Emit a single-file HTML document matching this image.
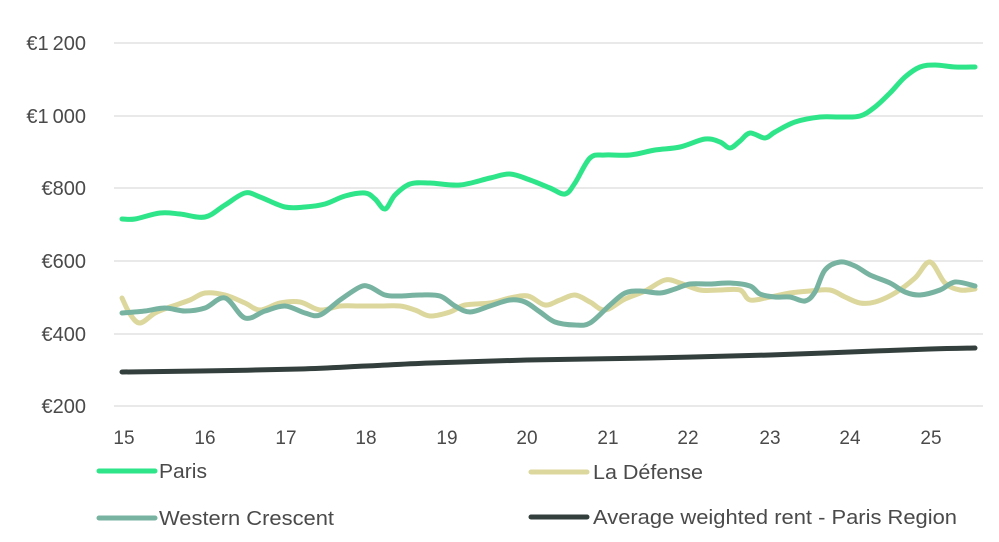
<!DOCTYPE html>
<html><head><meta charset="utf-8"><style>
html,body{margin:0;padding:0;background:#fff;}
svg{display:block;}
text{font-family:"Liberation Sans",sans-serif;fill:#4a4a4a;}
</style></head><body>
<svg id="c" width="999" height="542" viewBox="0 0 999 542" xmlns="http://www.w3.org/2000/svg">
<g stroke="#e2e2e2" stroke-width="1.5">
<line x1="114" y1="43" x2="983" y2="43"/>
<line x1="114" y1="116" x2="983" y2="116"/>
<line x1="114" y1="188" x2="983" y2="188"/>
<line x1="114" y1="261" x2="983" y2="261"/>
<line x1="114" y1="334" x2="983" y2="334"/>
<line x1="114" y1="406" x2="983" y2="406"/>
</g>
<g font-size="20" text-anchor="end">
<text x="86" y="50">€1&#8201;200</text>
<text x="86" y="123">€1&#8201;000</text>
<text x="86" y="195">€800</text>
<text x="86" y="268">€600</text>
<text x="86" y="341">€400</text>
<text x="86" y="413">€200</text>
</g>
<g font-size="19" text-anchor="middle">
<text x="124" y="444">15</text><text x="205" y="444">16</text><text x="286" y="444">17</text>
<text x="366" y="444">18</text><text x="447" y="444">19</text><text x="527" y="444">20</text>
<text x="608" y="444">21</text><text x="688" y="444">22</text><text x="770" y="444">23</text>
<text x="850" y="444">24</text><text x="931" y="444">25</text>
</g>
<g fill="none" stroke-width="5" stroke-linejoin="round" stroke-linecap="round">
<polyline stroke="#333f3c" points="122,372 200,371 300,369 366,366 430,363 527,360 650,358 770,355 850,352 930,349 975,348"/>
<polyline stroke="#dcd79c" points="122,298 130,314 140,323 155,313 170,307 190,300 205,293 225,295 245,303 260,310 280,303 300,302 320,310 340,306 360,306 380,306 400,306 415,310 430,316 450,312 465,305 490,303 510,298 528,296 545,305 560,300 575,295 590,302 605,310 625,299 645,291 665,280 680,283 700,290 720,290 740,290 750,300 770,297 790,293 810,291 830,290 845,297 860,303 875,302 895,293 915,278 930,262 945,283 960,290 975,289"/>
<polyline stroke="#77b3a0" points="122,313 145,311 165,308 185,311 205,308 225,298 245,318 265,311 285,306 305,313 320,315 340,300 360,287 370,287 385,295 400,296 420,295 440,296 455,306 470,312 490,306 510,300 525,302 540,312 555,322 575,325 590,323 610,305 625,293 640,291 660,293 675,289 690,284 710,284 730,283 750,286 760,294 775,297 790,297 805,301 815,292 825,270 840,262 855,266 870,275 890,283 905,292 920,295 940,290 955,282 975,286"/>
<polyline stroke="#2ee58a" points="122,219 135,219 160,213 180,214 205,217 225,205 245,193 260,197 285,207 305,207 325,204 345,196 365,193 375,199 385,209 395,195 410,184 430,183 460,185 490,178 510,174 530,180 550,188 565,194 575,183 590,158 605,155 630,155 655,150 680,147 705,139 720,142 730,148 740,141 750,133 765,138 775,132 795,122 820,117 840,117 860,116 875,107 890,93 905,77 920,67 935,65 955,67 975,67"/>
</g>
<g stroke-width="5" stroke-linecap="round">
<line x1="99" y1="471" x2="155" y2="471" stroke="#2ee58a"/>
<line x1="531" y1="472" x2="587" y2="472" stroke="#dcd79c"/>
<line x1="99" y1="518" x2="155" y2="518" stroke="#77b3a0"/>
<line x1="531" y1="517" x2="587" y2="517" stroke="#333f3c"/>
</g>
<g font-size="20">
<text x="159" y="478" textLength="48" lengthAdjust="spacingAndGlyphs">Paris</text>
<text x="593" y="479" textLength="110" lengthAdjust="spacingAndGlyphs">La Défense</text>
<text x="159" y="525" textLength="175" lengthAdjust="spacingAndGlyphs">Western Crescent</text>
<text x="593" y="524" textLength="364" lengthAdjust="spacingAndGlyphs">Average weighted rent - Paris Region</text>
</g>
</svg>
<script>
document.querySelectorAll('polyline').forEach(function(pl){
  var p=pl.getAttribute('points').trim().split(/\s+/).map(function(s){return s.split(',').map(Number);});
  var d='M'+p[0][0]+','+p[0][1];
  for(var i=0;i<p.length-1;i++){
    var p0=p[i-1]||p[i],p1=p[i],p2=p[i+1],p3=p[i+2]||p2;
    var c1x=p1[0]+(p2[0]-p0[0])/6,c1y=p1[1]+(p2[1]-p0[1])/6;
    var c2x=p2[0]-(p3[0]-p1[0])/6,c2y=p2[1]-(p3[1]-p1[1])/6;
    d+=' C'+c1x+','+c1y+' '+c2x+','+c2y+' '+p2[0]+','+p2[1];
  }
  var path=document.createElementNS('http://www.w3.org/2000/svg','path');
  path.setAttribute('d',d);path.setAttribute('stroke',pl.getAttribute('stroke'));
  pl.parentNode.replaceChild(path,pl);
});
</script>
</body></html>
